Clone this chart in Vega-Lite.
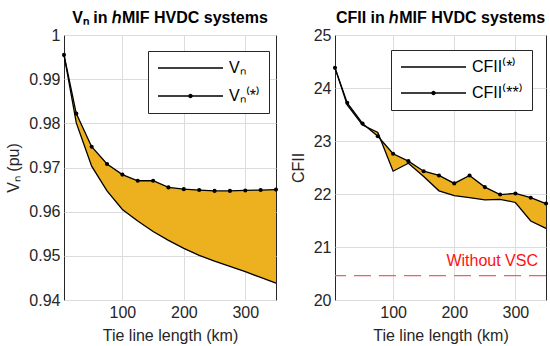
{
  "$schema": "https://vega.github.io/schema/vega-lite/v6.json",
  "padding": {"left": 5, "top": 9, "right": 5, "bottom": 4},
  "spacing": 9,
  "config": {
    "font": "Liberation Sans",
    "view": {"stroke": "#262626", "strokeWidth": 1},
    "axis": {
      "labelFont": "Liberation Sans", "labelFontSize": 16, "labelColor": "#262626",
      "titleFont": "Liberation Sans", "titleFontSize": 16, "titleFontWeight": "normal", "titleColor": "#262626",
      "gridColor": "#dcdcdc", "gridWidth": 1, "domain": false, "ticks": false, "labelPadding": 4, "titlePadding": 7
    },
    "title": {"font": "Liberation Sans", "fontSize": 16, "fontWeight": "bold", "color": "#000000", "offset": 1},
    "legend": {
      "orient": "none", "title": null, "padding": 9, "strokeColor": "#262626", "fillColor": "white",
      "symbolSize": 4225, "symbolStrokeWidth": 1.3, "symbolStrokeColor": "black",
      "symbolOpacity": 1, "labelFont": "Liberation Sans", "labelFontSize": 16, "labelColor": "#000000",
      "labelOffset": 5, "clipHeight": 16
    }
  },
  "resolve": {"scale": {"shape": "independent"}, "legend": {"shape": "independent"}},
  "datasets": {
    "vn": [
      {"x": 5, "vn": 0.9955, "vns": 0.9955},
      {"x": 25, "vn": 0.9801, "vns": 0.9822},
      {"x": 50, "vn": 0.9703, "vns": 0.9747},
      {"x": 75, "vn": 0.9647, "vns": 0.9708},
      {"x": 100, "vn": 0.9605, "vns": 0.9684},
      {"x": 125, "vn": 0.9579, "vns": 0.967},
      {"x": 150, "vn": 0.9555, "vns": 0.967},
      {"x": 175, "vn": 0.9535, "vns": 0.9655},
      {"x": 200, "vn": 0.9517, "vns": 0.9651},
      {"x": 225, "vn": 0.9501, "vns": 0.9649},
      {"x": 250, "vn": 0.9488, "vns": 0.9647},
      {"x": 275, "vn": 0.9476, "vns": 0.9647},
      {"x": 300, "vn": 0.9464, "vns": 0.9648},
      {"x": 325, "vn": 0.9451, "vns": 0.9649},
      {"x": 350, "vn": 0.9438, "vns": 0.965}
    ],
    "cf": [
      {"x": 5, "cs": 24.38, "css": 24.38},
      {"x": 25, "cs": 23.68, "css": 23.72},
      {"x": 50, "cs": 23.3, "css": 23.33},
      {"x": 75, "cs": 23.16, "css": 23.09},
      {"x": 100, "cs": 22.43, "css": 22.76},
      {"x": 125, "cs": 22.58, "css": 22.62},
      {"x": 150, "cs": 22.33, "css": 22.43},
      {"x": 175, "cs": 22.06, "css": 22.35},
      {"x": 200, "cs": 21.97, "css": 22.2},
      {"x": 225, "cs": 21.93, "css": 22.35},
      {"x": 250, "cs": 21.89, "css": 22.13},
      {"x": 275, "cs": 21.9, "css": 21.99},
      {"x": 300, "cs": 21.84, "css": 22.01},
      {"x": 325, "cs": 21.49, "css": 21.93},
      {"x": 350, "cs": 21.35, "css": 21.82}
    ],
    "ref": [{"y": 20.46, "lx": 262, "label": "Without VSC"}]
  },
  "hconcat": [
    {
      "width": 212, "height": 265,
      "title": "Vₙ in  ℎMIF HVDC systems",
      "data": {"name": "vn"},
      "encoding": {
        "x": {"field": "x", "type": "quantitative", "scale": {"domain": [5, 350], "nice": false},
              "axis": {"values": [100, 200, 300], "title": "Tie line length (km)"}}
      },
      "layer": [
        {
          "mark": {"type": "area", "color": "#EDB120", "opacity": 1},
          "encoding": {
            "y": {"field": "vn", "type": "quantitative", "scale": {"domain": [0.94, 1], "nice": false},
                  "axis": {"values": [0.94, 0.95, 0.96, 0.97, 0.98, 0.99, 1], "format": ".2~f", "title": "Vₙ (pu)"}},
            "y2": {"field": "vns"}
          }
        },
        {"mark": {"type": "line", "color": "black", "strokeWidth": 1.3}, "encoding": {"y": {"field": "vn", "type": "quantitative"}}},
        {"mark": {"type": "line", "color": "black", "strokeWidth": 1.3}, "encoding": {"y": {"field": "vns", "type": "quantitative"}}},
        {"mark": {"type": "circle", "color": "black", "size": 17, "opacity": 1}, "encoding": {"y": {"field": "vns", "type": "quantitative"}}},
        {
          "transform": [{"fold": ["vn", "vns"], "as": ["series", "val"]}],
          "mark": {"type": "point", "filled": false, "color": "black", "opacity": 0, "strokeWidth": 1.3},
          "encoding": {
            "y": {"field": "val", "type": "quantitative"},
            "shape": {"field": "series", "type": "nominal",
              "scale": {"domain": ["vn", "vns"], "range": ["M-1,0L1,0", "M-1,0L1,0M0.05,0A0.05,0.05,0,1,1,-0.05,0A0.05,0.05,0,1,1,0.05,0ZM0.02,0A0.02,0.02,0,1,1,-0.02,0A0.02,0.02,0,1,1,0.02,0Z"]},
              "legend": {"legendX": 84, "legendY": 16, "rowPadding": 12,
                "labelExpr": "datum.label == 'vn' ? 'Vₙ' : 'Vₙ⁽*⁾'"}}
          }
        }
      ]
    },
    {
      "width": 211, "height": 265,
      "title": "CFII in  ℎMIF HVDC systems",
      "encoding": {
        "x": {"field": "x", "type": "quantitative", "scale": {"domain": [5, 350], "nice": false},
              "axis": {"values": [100, 200, 300], "title": "Tie line length (km)"}}
      },
      "layer": [
        {
          "data": {"name": "cf"},
          "mark": {"type": "area", "color": "#EDB120", "opacity": 1},
          "encoding": {
            "y": {"field": "cs", "type": "quantitative", "scale": {"domain": [20, 25], "nice": false},
                  "axis": {"values": [20, 21, 22, 23, 24, 25], "title": "CFII"}},
            "y2": {"field": "css"}
          }
        },
        {"data": {"name": "cf"}, "mark": {"type": "line", "color": "black", "strokeWidth": 1.3}, "encoding": {"y": {"field": "cs", "type": "quantitative"}}},
        {"data": {"name": "cf"}, "mark": {"type": "line", "color": "black", "strokeWidth": 1.3}, "encoding": {"y": {"field": "css", "type": "quantitative"}}},
        {"data": {"name": "cf"}, "mark": {"type": "circle", "color": "black", "size": 17, "opacity": 1}, "encoding": {"y": {"field": "css", "type": "quantitative"}}},
        {
          "data": {"name": "ref"},
          "mark": {"type": "rule", "color": "#ff5a5a", "strokeWidth": 1.3, "strokeDash": [17, 8]},
          "encoding": {"x": null, "y": {"field": "y", "type": "quantitative"}}
        },
        {
          "data": {"name": "ref"},
          "mark": {"type": "text", "color": "#ff1010", "fontSize": 16, "dy": -15},
          "encoding": {"x": {"field": "lx", "type": "quantitative"}, "y": {"field": "y", "type": "quantitative"}, "text": {"field": "label", "type": "nominal"}}
        },
        {
          "data": {"name": "cf"},
          "transform": [{"fold": ["cs", "css"], "as": ["series", "val"]}],
          "mark": {"type": "point", "filled": false, "color": "black", "opacity": 0, "strokeWidth": 1.3},
          "encoding": {
            "y": {"field": "val", "type": "quantitative"},
            "shape": {"field": "series", "type": "nominal",
              "scale": {"domain": ["cs", "css"], "range": ["M-1,0L1,0", "M-1,0L1,0M0.05,0A0.05,0.05,0,1,1,-0.05,0A0.05,0.05,0,1,1,0.05,0ZM0.02,0A0.02,0.02,0,1,1,-0.02,0A0.02,0.02,0,1,1,0.02,0Z"]},
              "legend": {"legendX": 56, "legendY": 15, "rowPadding": 10,
                "labelExpr": "datum.label == 'cs' ? 'CFII⁽*⁾' : 'CFII⁽**⁾'"}}
          }
        }
      ]
    }
  ]
}
